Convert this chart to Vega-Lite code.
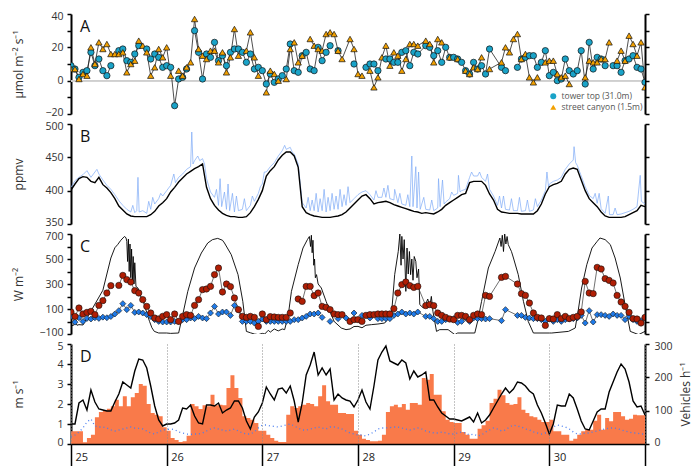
{
"$schema": "https://vega.github.io/schema/vega-lite/v6.json",
"padding": {"left": 11, "top": 11, "right": 5, "bottom": 26},
"background": "white",
"spacing": 10,
"bounds": "flush",
"resolve": {"legend": {"fill": "independent", "shape": "independent"}},
"config": {
  "font": "Open Sans",
  "view": {"stroke": null},
  "axis": {"labelFont": "Open Sans", "labelFontSize": 10.5, "labelColor": "#333", "titleFont": "Open Sans", "titleFontSize": 12, "titleFontWeight": "normal", "titleColor": "#333", "domainColor": "#000", "domainWidth": 2, "tickColor": "#000", "tickWidth": 1.5, "tickSize": 4, "labelPadding": 4, "grid": false},
  "axisY": {"labelFlush": true, "labelFlushOffset": 3},
  "legend": {"labelFont": "Open Sans"}
},
"datasets": {
"A": [
{"h":0,"tower":9,"street":7},{"h":1,"tower":7,"street":7},{"h":2,"tower":2,"street":1},{"h":3,"tower":5,"street":4},{"h":4,"tower":6,"street":3},{"h":5,"tower":17,"street":20},{"h":6,"tower":9,"street":10},{"h":7,"tower":13,"street":23},{"h":8,"tower":6,"street":19},{"h":9,"tower":3,"street":22},{"h":10,"tower":9,"street":16},{"h":11,"tower":null,"street":16},{"h":12,"tower":18,"street":16},{"h":13,"tower":19,"street":17},{"h":14,"tower":12,"street":5},{"h":15,"tower":11,"street":10},{"h":16,"tower":16,"street":12},{"h":17,"tower":21,"street":24},{"h":18,"tower":null,"street":21},{"h":19,"tower":19,"street":17},{"h":20,"tower":13,"street":3},{"h":21,"tower":16,"street":8},{"h":22,"tower":14,"street":19},{"h":23,"tower":8,"street":14},{"h":24,"tower":9,"street":20},{"h":25,"tower":8,"street":3},{"h":26,"tower":-15,"street":null},{"h":27,"tower":1,"street":6},{"h":28,"tower":2,"street":3},{"h":29,"tower":7,"street":8},{"h":30,"tower":null,"street":11},{"h":31,"tower":30,"street":37},{"h":32,"tower":17,"street":19},{"h":33,"tower":1,"street":15},{"h":34,"tower":16,"street":13},{"h":35,"tower":14,"street":18},{"h":36,"tower":23,"street":18},{"h":37,"tower":12,"street":11},{"h":38,"tower":15,"street":17},{"h":39,"tower":9,"street":5},{"h":40,"tower":17,"street":14},{"h":41,"tower":19,"street":31},{"h":42,"tower":19,"street":15},{"h":43,"tower":17,"street":null},{"h":44,"tower":11,"street":18},{"h":45,"tower":16,"street":29},{"h":46,"tower":7,"street":14},{"h":47,"tower":8,"street":3},{"h":48,"tower":6,"street":null},{"h":49,"tower":-2,"street":-7},{"h":50,"tower":4,"street":6},{"h":51,"tower":-1,"street":4},{"h":52,"tower":1,"street":0},{"h":53,"tower":3,"street":null},{"h":54,"tower":7,"street":1},{"h":55,"tower":22,"street":19},{"h":56,"tower":6,"street":23},{"h":57,"tower":5,"street":11},{"h":58,"tower":15,"street":15},{"h":59,"tower":17,"street":null},{"h":60,"tower":7,"street":25},{"h":61,"tower":6,"street":21},{"h":62,"tower":20,"street":19},{"h":63,"tower":12,"street":18},{"h":64,"tower":17,"street":28},{"h":65,"tower":21,"street":29},{"h":66,"tower":null,"street":28},{"h":67,"tower":18,"street":18},{"h":68,"tower":null,"street":13},{"h":70,"tower":null,"street":25},{"h":71,"tower":10,"street":19},{"h":72,"tower":null,"street":4},{"h":73,"tower":null,"street":3},{"h":74,"tower":8,"street":null},{"h":75,"tower":10,"street":6},{"h":76,"tower":10,"street":-4},{"h":77,"tower":6,"street":2},{"h":78,"tower":null,"street":14},{"h":79,"tower":13,"street":21},{"h":80,"tower":13,"street":9},{"h":81,"tower":11,"street":17},{"h":82,"tower":11,"street":15},{"h":83,"tower":17,"street":6},{"h":84,"tower":18,"street":13},{"h":85,"tower":9,"street":22},{"h":86,"tower":17,"street":22},{"h":87,"tower":16,"street":21},{"h":89,"tower":21,"street":24},{"h":90,"tower":20,"street":22},{"h":91,"tower":15,"street":11},{"h":92,"tower":18,"street":25},{"h":93,"tower":11,"street":23},{"h":94,"tower":20,"street":null},{"h":95,"tower":14,"street":14},{"h":96,"tower":14,"street":null},{"h":97,"tower":13,"street":13},{"h":98,"tower":11,"street":null},{"h":99,"tower":6,"street":6},{"h":100,"tower":4,"street":4},{"h":101,"tower":11,"street":8},{"h":102,"tower":7,"street":7},{"h":103,"tower":9,"street":14},{"h":104,"tower":4,"street":null},{"h":105,"tower":19,"street":7},{"h":108,"tower":8,"street":11},{"h":109,"tower":6,"street":20},{"h":110,"tower":null,"street":17},{"h":111,"tower":null,"street":25},{"h":112,"tower":8,"street":28},{"h":113,"tower":13,"street":13},{"h":114,"tower":14,"street":16},{"h":115,"tower":15,"street":2},{"h":116,"tower":15,"street":-1},{"h":117,"tower":8,"street":2},{"h":118,"tower":11,"street":null},{"h":119,"tower":18,"street":11},{"h":120,"tower":3,"street":12},{"h":121,"tower":5,"street":12},{"h":122,"tower":0,"street":4},{"h":123,"tower":1,"street":2},{"h":124,"tower":13,"street":3},{"h":125,"tower":6,"street":-2},{"h":126,"tower":4,"street":null},{"h":127,"tower":6,"street":null},{"h":128,"tower":18,"street":null},{"h":129,"tower":-2,"street":2},{"h":130,"tower":23,"street":12},{"h":131,"tower":7,"street":11},{"h":132,"tower":14,"street":11},{"h":133,"tower":13,"street":13},{"h":134,"tower":9,"street":13},{"h":135,"tower":null,"street":23},{"h":136,"tower":9,"street":null},{"h":137,"tower":9,"street":12},{"h":138,"tower":5,"street":18},{"h":139,"tower":12,"street":12},{"h":140,"tower":13,"street":27},{"h":141,"tower":15,"street":22},{"h":142,"tower":8,"street":15},{"h":143,"tower":7,"street":23},{"h":144,"tower":-1,"street":-4}
],
"Bk": [
{"h":0,"co2":401},{"h":1,"co2":410},{"h":2,"co2":418},{"h":3,"co2":421},{"h":4,"co2":420},{"h":5,"co2":414},{"h":6,"co2":412},{"h":7,"co2":420},{"h":8,"co2":409},{"h":9,"co2":404},{"h":10,"co2":397},{"h":11,"co2":388},{"h":12,"co2":377},{"h":13,"co2":371},{"h":14,"co2":365},{"h":15,"co2":362},{"h":16,"co2":361},{"h":17,"co2":361},{"h":18,"co2":361},{"h":19,"co2":361},{"h":20,"co2":364},{"h":21,"co2":369},{"h":22,"co2":377},{"h":23,"co2":382},{"h":24,"co2":388},{"h":25,"co2":398},{"h":26,"co2":405},{"h":27,"co2":413},{"h":28,"co2":419},{"h":29,"co2":425},{"h":30,"co2":429},{"h":31,"co2":433},{"h":32,"co2":436},{"h":33,"co2":440},{"h":34,"co2":405},{"h":35,"co2":388},{"h":36,"co2":378},{"h":37,"co2":371},{"h":38,"co2":366},{"h":39,"co2":363},{"h":40,"co2":361},{"h":41,"co2":361},{"h":42,"co2":360},{"h":43,"co2":360},{"h":44,"co2":361},{"h":45,"co2":367},{"h":46,"co2":376},{"h":47,"co2":387},{"h":48,"co2":400},{"h":49,"co2":422},{"h":50,"co2":430},{"h":51,"co2":436},{"h":52,"co2":446},{"h":53,"co2":453},{"h":54,"co2":458},{"h":55,"co2":458},{"h":56,"co2":452},{"h":57,"co2":435},{"h":58,"co2":376},{"h":59,"co2":367},{"h":60,"co2":364},{"h":61,"co2":362},{"h":62,"co2":361},{"h":63,"co2":360},{"h":64,"co2":360},{"h":65,"co2":360},{"h":66,"co2":361},{"h":67,"co2":362},{"h":68,"co2":364},{"h":69,"co2":368},{"h":70,"co2":374},{"h":71,"co2":380},{"h":72,"co2":386},{"h":73,"co2":392},{"h":74,"co2":394},{"h":75,"co2":388},{"h":76,"co2":380},{"h":77,"co2":382},{"h":78,"co2":383},{"h":79,"co2":384},{"h":80,"co2":382},{"h":81,"co2":379},{"h":82,"co2":377},{"h":83,"co2":375},{"h":84,"co2":373},{"h":85,"co2":371},{"h":86,"co2":369},{"h":87,"co2":368},{"h":88,"co2":366},{"h":89,"co2":367},{"h":90,"co2":366},{"h":91,"co2":365},{"h":92,"co2":368},{"h":93,"co2":372},{"h":94,"co2":378},{"h":95,"co2":382},{"h":96,"co2":386},{"h":97,"co2":390},{"h":98,"co2":394},{"h":99,"co2":396},{"h":100,"co2":412},{"h":101,"co2":414},{"h":102,"co2":414},{"h":103,"co2":414},{"h":104,"co2":408},{"h":105,"co2":395},{"h":106,"co2":386},{"h":107,"co2":372},{"h":108,"co2":368},{"h":109,"co2":367},{"h":110,"co2":366},{"h":111,"co2":366},{"h":112,"co2":366},{"h":113,"co2":365},{"h":114,"co2":365},{"h":115,"co2":365},{"h":116,"co2":365},{"h":117,"co2":370},{"h":118,"co2":380},{"h":119,"co2":395},{"h":120,"co2":406},{"h":121,"co2":409},{"h":122,"co2":411},{"h":123,"co2":414},{"h":124,"co2":425},{"h":125,"co2":432},{"h":126,"co2":434},{"h":127,"co2":432},{"h":128,"co2":416},{"h":129,"co2":400},{"h":130,"co2":388},{"h":131,"co2":382},{"h":132,"co2":376},{"h":133,"co2":368},{"h":134,"co2":362},{"h":135,"co2":360},{"h":136,"co2":360},{"h":137,"co2":360},{"h":138,"co2":360},{"h":139,"co2":361},{"h":140,"co2":364},{"h":141,"co2":367},{"h":142,"co2":370},{"h":143,"co2":378},{"h":144,"co2":376}
],
"Bb": [
{"h":0,"co2":405},{"h":1,"co2":415},{"h":2,"co2":420},{"h":3,"co2":424},{"h":4,"co2":430},{"h":5,"co2":420},{"h":6,"co2":428},{"h":6.5,"co2":432},{"h":7,"co2":425},{"h":8,"co2":416},{"h":9,"co2":408},{"h":10,"co2":402},{"h":11,"co2":394},{"h":12,"co2":385},{"h":13,"co2":378},{"h":14,"co2":372},{"h":15,"co2":368},{"h":15.5,"co2":378},{"h":16,"co2":367},{"h":16.5,"co2":370},{"h":16.8,"co2":420},{"h":17.1,"co2":368},{"h":18,"co2":370},{"h":19,"co2":366},{"h":19.5,"co2":384},{"h":20,"co2":372},{"h":20.5,"co2":390},{"h":21,"co2":380},{"h":22,"co2":388},{"h":22.5,"co2":396},{"h":23,"co2":392},{"h":24,"co2":400},{"h":25,"co2":408},{"h":25.8,"co2":425},{"h":26.2,"co2":412},{"h":27,"co2":420},{"h":28,"co2":425},{"h":29,"co2":432},{"h":30,"co2":436},{"h":30.3,"co2":488},{"h":30.6,"co2":440},{"h":31,"co2":445},{"h":31.8,"co2":452},{"h":32.3,"co2":445},{"h":33,"co2":448},{"h":33.5,"co2":440},{"h":34,"co2":418},{"h":35,"co2":398},{"h":36,"co2":390},{"h":36.5,"co2":402},{"h":37,"co2":378},{"h":37.4,"co2":418},{"h":37.8,"co2":376},{"h":38.5,"co2":398},{"h":39,"co2":372},{"h":39.4,"co2":410},{"h":39.8,"co2":370},{"h":40.5,"co2":396},{"h":41,"co2":368},{"h":41.5,"co2":392},{"h":42,"co2":370},{"h":43,"co2":372},{"h":43.5,"co2":388},{"h":44,"co2":370},{"h":45,"co2":378},{"h":45.5,"co2":392},{"h":46,"co2":384},{"h":47,"co2":396},{"h":47.5,"co2":406},{"h":48,"co2":410},{"h":48.5,"co2":428},{"h":49,"co2":428},{"h":50,"co2":436},{"h":51,"co2":442},{"h":52,"co2":452},{"h":53,"co2":460},{"h":53.6,"co2":468},{"h":54,"co2":462},{"h":55,"co2":465},{"h":55.5,"co2":458},{"h":56,"co2":455},{"h":57,"co2":440},{"h":58,"co2":382},{"h":59,"co2":374},{"h":59.5,"co2":390},{"h":60,"co2":370},{"h":60.5,"co2":386},{"h":61,"co2":370},{"h":61.5,"co2":396},{"h":62,"co2":368},{"h":62.5,"co2":388},{"h":63,"co2":370},{"h":63.5,"co2":402},{"h":64,"co2":368},{"h":64.5,"co2":390},{"h":65,"co2":370},{"h":65.5,"co2":396},{"h":66,"co2":372},{"h":66.5,"co2":392},{"h":67,"co2":372},{"h":67.5,"co2":402},{"h":68,"co2":376},{"h":68.5,"co2":394},{"h":69,"co2":378},{"h":69.5,"co2":406},{"h":70,"co2":382},{"h":71,"co2":388},{"h":72,"co2":394},{"h":73,"co2":398},{"h":74,"co2":400},{"h":75,"co2":394},{"h":76,"co2":386},{"h":76.5,"co2":400},{"h":77,"co2":390},{"h":78,"co2":390},{"h":78.5,"co2":404},{"h":79,"co2":390},{"h":79.5,"co2":408},{"h":80,"co2":388},{"h":81,"co2":386},{"h":81.2,"co2":402},{"h":82,"co2":382},{"h":82.5,"co2":396},{"h":83,"co2":380},{"h":84,"co2":378},{"h":84.5,"co2":394},{"h":85,"co2":376},{"h":85.5,"co2":452},{"h":85.8,"co2":376},{"h":86.5,"co2":436},{"h":86.8,"co2":374},{"h":87.2,"co2":428},{"h":87.6,"co2":372},{"h":88.5,"co2":390},{"h":89,"co2":372},{"h":90,"co2":371},{"h":90.5,"co2":386},{"h":91,"co2":370},{"h":92,"co2":374},{"h":92.2,"co2":418},{"h":92.6,"co2":376},{"h":93.2,"co2":416},{"h":93.6,"co2":380},{"h":94,"co2":383},{"h":95,"co2":388},{"h":95.5,"co2":398},{"h":96,"co2":393},{"h":97,"co2":396},{"h":97.2,"co2":423},{"h":97.6,"co2":398},{"h":98,"co2":400},{"h":99,"co2":402},{"h":100,"co2":420},{"h":100.5,"co2":428},{"h":101,"co2":422},{"h":102,"co2":422},{"h":102.5,"co2":428},{"h":103,"co2":420},{"h":104,"co2":414},{"h":104.5,"co2":425},{"h":105,"co2":402},{"h":106,"co2":392},{"h":107,"co2":378},{"h":107.5,"co2":392},{"h":108,"co2":374},{"h":108.5,"co2":392},{"h":109,"co2":372},{"h":110,"co2":371},{"h":110.5,"co2":388},{"h":111,"co2":370},{"h":112,"co2":370},{"h":112.5,"co2":390},{"h":113,"co2":369},{"h":114,"co2":370},{"h":114.5,"co2":386},{"h":115,"co2":369},{"h":116,"co2":371},{"h":116.5,"co2":388},{"h":117,"co2":376},{"h":118,"co2":386},{"h":119,"co2":400},{"h":119.4,"co2":428},{"h":119.8,"co2":406},{"h":120,"co2":410},{"h":121,"co2":414},{"h":122,"co2":416},{"h":123,"co2":420},{"h":124,"co2":432},{"h":125,"co2":440},{"h":126,"co2":446},{"h":126.2,"co2":466},{"h":126.6,"co2":442},{"h":127,"co2":438},{"h":128,"co2":422},{"h":129,"co2":406},{"h":130,"co2":393},{"h":131,"co2":388},{"h":131.5,"co2":396},{"h":132,"co2":381},{"h":132.5,"co2":396},{"h":133,"co2":373},{"h":134,"co2":366},{"h":134.8,"co2":392},{"h":135.1,"co2":364},{"h":136,"co2":364},{"h":136.5,"co2":374},{"h":137,"co2":364},{"h":138,"co2":365},{"h":139,"co2":367},{"h":140,"co2":369},{"h":141,"co2":372},{"h":142,"co2":376},{"h":142.8,"co2":423},{"h":143.1,"co2":384},{"h":144,"co2":380}
],
"Cs": [
{"h":0,"sw":-20},{"h":0.5,"sw":-35},{"h":1,"sw":-10},{"h":1.5,"sw":-30},{"h":2,"sw":-25},{"h":3,"sw":-28},{"h":8,"sw":250},{"h":9,"sw":380},{"h":10,"sw":508},{"h":11,"sw":590},{"h":11.7,"sw":615},{"h":12.5,"sw":650},{"h":13.4,"sw":680},{"h":13.8,"sw":670},{"h":14,"sw":640},{"h":14.2,"sw":480},{"h":14.4,"sw":660},{"h":14.6,"sw":400},{"h":14.8,"sw":620},{"h":15,"sw":350},{"h":15.2,"sw":580},{"h":15.4,"sw":330},{"h":15.6,"sw":520},{"h":15.8,"sw":300},{"h":16,"sw":470},{"h":16.3,"sw":280},{"h":16.8,"sw":268},{"h":17.5,"sw":200},{"h":18.4,"sw":135},{"h":19,"sw":70},{"h":19.7,"sw":1},{"h":20.3,"sw":-50},{"h":20.9,"sw":-79},{"h":22,"sw":-92},{"h":24,"sw":-92},{"h":25,"sw":-95},{"h":27,"sw":-92},{"h":28,"sw":50},{"h":29.3,"sw":241},{"h":31,"sw":428},{"h":32.7,"sw":548},{"h":34.3,"sw":628},{"h":35.5,"sw":655},{"h":36.8,"sw":665},{"h":38,"sw":650},{"h":38.5,"sw":628},{"h":40.2,"sw":535},{"h":41.9,"sw":375},{"h":43.1,"sw":161},{"h":44,"sw":-79},{"h":45,"sw":-90},{"h":46,"sw":-100},{"h":47,"sw":-105},{"h":48,"sw":-95},{"h":48.6,"sw":-100},{"h":49.5,"sw":-70},{"h":50,"sw":-85},{"h":51,"sw":-60},{"h":52,"sw":-75},{"h":53,"sw":-60},{"h":53.6,"sw":-65},{"h":54.5,"sw":50},{"h":55.3,"sw":241},{"h":57,"sw":455},{"h":58.2,"sw":588},{"h":59.3,"sw":655},{"h":59.8,"sw":680},{"h":60.1,"sw":600},{"h":60.3,"sw":690},{"h":60.5,"sw":550},{"h":60.7,"sw":650},{"h":60.9,"sw":450},{"h":61.1,"sw":500},{"h":61.3,"sw":350},{"h":61.6,"sw":375},{"h":62,"sw":300},{"h":62.8,"sw":268},{"h":64,"sw":161},{"h":65.3,"sw":55},{"h":66,"sw":1},{"h":67.8,"sw":-52},{"h":69,"sw":-65},{"h":70,"sw":-60},{"h":71,"sw":-40},{"h":72,"sw":-39},{"h":73,"sw":-50},{"h":74,"sw":-30},{"h":75.4,"sw":-25},{"h":77,"sw":-20},{"h":78.7,"sw":-12},{"h":80.4,"sw":55},{"h":81.2,"sw":375},{"h":82.1,"sw":561},{"h":82.5,"sw":700},{"h":82.8,"sw":450},{"h":83,"sw":681},{"h":83.3,"sw":500},{"h":83.6,"sw":655},{"h":84,"sw":241},{"h":84.3,"sw":588},{"h":84.6,"sw":380},{"h":84.9,"sw":560},{"h":85.2,"sw":375},{"h":85.5,"sw":500},{"h":85.8,"sw":330},{"h":86.1,"sw":520},{"h":86.5,"sw":481},{"h":86.8,"sw":350},{"h":87.2,"sw":420},{"h":87.5,"sw":135},{"h":88.4,"sw":108},{"h":89,"sw":140},{"h":89.5,"sw":180},{"h":90,"sw":120},{"h":90.4,"sw":201},{"h":90.8,"sw":80},{"h":91.7,"sw":-79},{"h":92.5,"sw":-65},{"h":94.6,"sw":-65},{"h":96.3,"sw":-105},{"h":97,"sw":-92},{"h":101.3,"sw":-92},{"h":102,"sw":0},{"h":103,"sw":161},{"h":104.7,"sw":428},{"h":106.4,"sw":561},{"h":107.6,"sw":668},{"h":107.9,"sw":600},{"h":108.2,"sw":690},{"h":108.5,"sw":560},{"h":108.8,"sw":700},{"h":109.1,"sw":620},{"h":109.4,"sw":680},{"h":109.7,"sw":615},{"h":110.5,"sw":560},{"h":111,"sw":508},{"h":112.2,"sw":375},{"h":113.5,"sw":161},{"h":114.7,"sw":1},{"h":116,"sw":-92},{"h":120,"sw":-92},{"h":120.6,"sw":-92},{"h":124.8,"sw":-79},{"h":126.5,"sw":-52},{"h":127.3,"sw":100},{"h":128.1,"sw":268},{"h":129.4,"sw":455},{"h":130.7,"sw":588},{"h":132,"sw":641},{"h":132.7,"sw":668},{"h":134,"sw":655},{"h":135.3,"sw":615},{"h":136.5,"sw":508},{"h":137.8,"sw":348},{"h":139,"sw":135},{"h":140.3,"sw":-79},{"h":142.4,"sw":-105},{"h":144,"sw":-79}
],
"C": [
{"h":0,"red":76,"blue":40},{"h":1,"red":41,"blue":-5},{"h":2,"red":108,"blue":30},{"h":3,"red":60,"blue":0},{"h":4,"red":73,"blue":25},{"h":5,"red":81,"blue":20},{"h":6,"red":55,"blue":30},{"h":7,"red":129,"blue":25},{"h":8,"red":167,"blue":35},{"h":9,"red":228,"blue":30},{"h":10,"red":287,"blue":40},{"h":11,"red":null,"blue":60},{"h":12,"red":289,"blue":87},{"h":13,"red":369,"blue":143},{"h":14,"red":335,"blue":95},{"h":15,"red":316,"blue":129},{"h":16,"red":247,"blue":73},{"h":17,"red":228,"blue":76},{"h":18,"red":175,"blue":68},{"h":19,"red":121,"blue":55},{"h":20,"red":68,"blue":41},{"h":21,"red":28,"blue":15},{"h":22,"red":20,"blue":1},{"h":23,"red":41,"blue":-4},{"h":24,"red":55,"blue":-4},{"h":25,"red":15,"blue":-4},{"h":26,"red":60,"blue":1},{"h":27,"red":1,"blue":1},{"h":28,"red":41,"blue":15},{"h":29,"red":55,"blue":15},{"h":30,"red":49,"blue":28},{"h":31,"red":129,"blue":23},{"h":32,"red":175,"blue":41},{"h":33,"red":255,"blue":28},{"h":34,"red":260,"blue":23},{"h":35,"red":281,"blue":68},{"h":36,"red":375,"blue":121},{"h":37,"red":428,"blue":60},{"h":38,"red":236,"blue":76},{"h":39,"red":300,"blue":76},{"h":40,"red":279,"blue":49},{"h":41,"red":188,"blue":129},{"h":42,"red":95,"blue":95},{"h":43,"red":41,"blue":1},{"h":44,"red":33,"blue":1},{"h":45,"red":41,"blue":1},{"h":46,"red":33,"blue":-12},{"h":47,"red":-39,"blue":1},{"h":48,"red":60,"blue":20},{"h":49,"red":15,"blue":1},{"h":50,"red":39,"blue":1},{"h":51,"red":36,"blue":1},{"h":52,"red":33,"blue":1},{"h":53,"red":33,"blue":1},{"h":54,"red":33,"blue":1},{"h":55,"red":68,"blue":1},{"h":56,"red":null,"blue":15},{"h":57,"red":180,"blue":15},{"h":58,"red":161,"blue":28},{"h":59,"red":281,"blue":41},{"h":60,"red":281,"blue":60},{"h":61,"red":207,"blue":60},{"h":62,"red":228,"blue":68},{"h":63,"red":121,"blue":33},{"h":64,"red":113,"blue":null},{"h":65,"red":95,"blue":1},{"h":66,"red":60,"blue":null},{"h":67,"red":55,"blue":23},{"h":68,"red":55,"blue":null},{"h":69,"red":null,"blue":28},{"h":70,"red":1,"blue":null},{"h":71,"red":15,"blue":68},{"h":72,"red":15,"blue":null},{"h":73,"red":1,"blue":49},{"h":74,"red":49,"blue":null},{"h":75,"red":55,"blue":28},{"h":76,"red":55,"blue":null},{"h":77,"red":60,"blue":23},{"h":78,"red":60,"blue":23},{"h":79,"red":60,"blue":23},{"h":80,"red":60,"blue":23},{"h":81,"red":103,"blue":49},{"h":82,"red":228,"blue":60},{"h":83,"red":295,"blue":76},{"h":84,"red":316,"blue":60},{"h":85,"red":287,"blue":68},{"h":86,"red":273,"blue":60},{"h":87,"red":281,"blue":76},{"h":89,"red":127,"blue":41},{"h":90,"red":135,"blue":41},{"h":91,"red":127,"blue":23},{"h":92,"red":68,"blue":1},{"h":93,"red":49,"blue":1},{"h":94,"red":33,"blue":15},{"h":95,"red":20,"blue":20},{"h":96,"red":15,"blue":23},{"h":97,"red":49,"blue":-8},{"h":98,"red":49,"blue":1},{"h":99,"red":41,"blue":28},{"h":100,"red":15,"blue":1},{"h":101,"red":49,"blue":28},{"h":102,"red":60,"blue":23},{"h":103,"red":55,"blue":23},{"h":104,"red":209,"blue":20},{"h":105,"red":201,"blue":23},{"h":108,"red":353,"blue":7},{"h":109,"red":361,"blue":95},{"h":112,"red":300,"blue":49},{"h":113,"red":223,"blue":49},{"h":114,"red":209,"blue":33},{"h":115,"red":148,"blue":28},{"h":116,"red":68,"blue":23},{"h":117,"red":33,"blue":23},{"h":118,"red":28,"blue":15},{"h":119,"red":-31,"blue":1},{"h":120,"red":23,"blue":23},{"h":121,"red":20,"blue":1},{"h":122,"red":55,"blue":15},{"h":123,"red":23,"blue":1},{"h":124,"red":41,"blue":15},{"h":125,"red":23,"blue":20},{"h":126,"red":33,"blue":23},{"h":127,"red":41,"blue":28},{"h":128,"red":76,"blue":49},{"h":129,"red":321,"blue":-12},{"h":130,"red":228,"blue":87},{"h":131,"red":223,"blue":-4},{"h":132,"red":433,"blue":55},{"h":133,"red":420,"blue":55},{"h":134,"red":343,"blue":49},{"h":135,"red":329,"blue":41},{"h":136,"red":308,"blue":60},{"h":137,"red":209,"blue":49},{"h":138,"red":156,"blue":49},{"h":139,"red":121,"blue":15},{"h":140,"red":73,"blue":41},{"h":141,"red":23,"blue":15},{"h":142,"red":20,"blue":1},{"h":143,"red":-12,"blue":7},{"h":144,"red":33,"blue":null}
],
"D": [
{"h":0,"veh":38,"ws":1.0,"us":0.35},{"h":1,"veh":38,"ws":1.0,"us":0.45},{"h":2,"veh":38,"ws":2.05,"us":0.6},{"h":3,"veh":5,"ws":2.2,"us":0.8},{"h":4,"veh":18,"ws":1.7,"us":1.1},{"h":5,"veh":28,"ws":2.7,"us":1.25},{"h":6,"veh":80,"ws":2.1,"us":0.9},{"h":7,"veh":96,"ws":1.75,"us":0.85},{"h":8,"veh":100,"ws":1.7,"us":0.85},{"h":9,"veh":106,"ws":1.65,"us":0.8},{"h":10,"veh":113,"ws":1.65,"us":0.7},{"h":11,"veh":133,"ws":2.1,"us":0.65},{"h":12,"veh":113,"ws":2.5,"us":0.7},{"h":13,"veh":143,"ws":3.1,"us":0.75},{"h":14,"veh":113,"ws":2.95,"us":0.8},{"h":15,"veh":140,"ws":2.8,"us":0.85},{"h":16,"veh":153,"ws":3.65,"us":0.8},{"h":17,"veh":180,"ws":4.25,"us":0.78},{"h":18,"veh":175,"ws":4.2,"us":0.75},{"h":19,"veh":120,"ws":3.8,"us":0.65},{"h":20,"veh":93,"ws":2.9,"us":0.55},{"h":21,"veh":88,"ws":1.9,"us":0.5},{"h":22,"veh":83,"ws":1.2,"us":0.6},{"h":23,"veh":50,"ws":0.9,"us":0.7},{"h":24,"veh":40,"ws":1.0,"us":0.72},{"h":25,"veh":18,"ws":1.0,"us":0.75},{"h":26,"veh":12,"ws":1.05,"us":0.72},{"h":27,"veh":6,"ws":1.2,"us":0.6},{"h":28,"veh":8,"ws":1.8,"us":0.55},{"h":29,"veh":25,"ws":1.75,"us":0.5},{"h":30,"veh":120,"ws":1.95,"us":0.48},{"h":31,"veh":113,"ws":1.4,"us":0.5},{"h":32,"veh":105,"ws":1.05,"us":0.5},{"h":33,"veh":116,"ws":1.0,"us":0.55},{"h":34,"veh":113,"ws":1.95,"us":0.65},{"h":35,"veh":148,"ws":1.95,"us":0.75},{"h":36,"veh":116,"ws":1.9,"us":0.8},{"h":37,"veh":118,"ws":2.05,"us":0.75},{"h":38,"veh":116,"ws":1.55,"us":0.7},{"h":39,"veh":168,"ws":1.7,"us":0.65},{"h":40,"veh":206,"ws":1.8,"us":0.7},{"h":41,"veh":168,"ws":2.15,"us":0.75},{"h":42,"veh":138,"ws":2.15,"us":0.65},{"h":43,"veh":83,"ws":1.8,"us":0.55},{"h":44,"veh":78,"ws":1.15,"us":0.5},{"h":45,"veh":73,"ws":0.75,"us":0.5},{"h":46,"veh":63,"ws":1.35,"us":0.6},{"h":47,"veh":40,"ws":1.6,"us":0.8},{"h":48,"veh":40,"ws":2.05,"us":0.95},{"h":49,"veh":28,"ws":2.85,"us":0.95},{"h":50,"veh":18,"ws":2.5,"us":0.9},{"h":51,"veh":10,"ws":2.2,"us":0.88},{"h":52,"veh":6,"ws":2.75,"us":0.85},{"h":53,"veh":6,"ws":2.8,"us":0.9},{"h":54,"veh":88,"ws":2.55,"us":0.95},{"h":55,"veh":113,"ws":2.9,"us":1.0},{"h":56,"veh":108,"ws":2.15,"us":0.9},{"h":57,"veh":113,"ws":1.1,"us":0.8},{"h":58,"veh":118,"ws":2.05,"us":0.7},{"h":59,"veh":123,"ws":3.45,"us":0.7},{"h":60,"veh":120,"ws":3.95,"us":0.75},{"h":61,"veh":113,"ws":4.6,"us":0.8},{"h":62,"veh":143,"ws":3.45,"us":0.85},{"h":63,"veh":176,"ws":3.8,"us":0.8},{"h":64,"veh":128,"ws":3.45,"us":0.75},{"h":65,"veh":118,"ws":3.75,"us":0.85},{"h":66,"veh":118,"ws":2.2,"us":0.85},{"h":67,"veh":93,"ws":2.5,"us":0.8},{"h":68,"veh":93,"ws":2.3,"us":0.75},{"h":69,"veh":90,"ws":2.2,"us":0.65},{"h":70,"veh":90,"ws":2.15,"us":0.55},{"h":71,"veh":40,"ws":1.85,"us":0.5},{"h":72,"veh":28,"ws":2.2,"us":0.45},{"h":73,"veh":16,"ws":2.7,"us":0.45},{"h":74,"veh":12,"ws":2.1,"us":0.4},{"h":75,"veh":8,"ws":1.75,"us":0.5},{"h":76,"veh":8,"ws":2.9,"us":0.6},{"h":77,"veh":10,"ws":4.2,"us":0.75},{"h":78,"veh":28,"ws":4.6,"us":0.8},{"h":79,"veh":96,"ws":4.9,"us":0.8},{"h":80,"veh":113,"ws":4.15,"us":0.82},{"h":81,"veh":118,"ws":4.05,"us":0.85},{"h":82,"veh":110,"ws":3.95,"us":0.85},{"h":83,"veh":120,"ws":4.2,"us":0.8},{"h":84,"veh":103,"ws":4.05,"us":0.75},{"h":85,"veh":123,"ws":3.25,"us":0.7},{"h":86,"veh":123,"ws":3.65,"us":0.75},{"h":87,"veh":118,"ws":3.35,"us":0.8},{"h":88,"veh":198,"ws":3.45,"us":0.75},{"h":89,"veh":193,"ws":3.6,"us":0.65},{"h":90,"veh":210,"ws":2.2,"us":0.6},{"h":91,"veh":148,"ws":2.2,"us":0.55},{"h":92,"veh":148,"ws":1.85,"us":0.55},{"h":93,"veh":98,"ws":1.55,"us":0.6},{"h":94,"veh":73,"ws":1.4,"us":0.55},{"h":95,"veh":66,"ws":1.25,"us":0.5},{"h":96,"veh":63,"ws":1.25,"us":0.5},{"h":97,"veh":63,"ws":1.2,"us":0.55},{"h":98,"veh":36,"ws":1.15,"us":0.6},{"h":99,"veh":28,"ws":1.25,"us":0.55},{"h":100,"veh":16,"ws":1.35,"us":0.45},{"h":101,"veh":16,"ws":1.1,"us":0.5},{"h":102,"veh":46,"ws":1.55,"us":0.4},{"h":103,"veh":56,"ws":1.05,"us":0.45},{"h":104,"veh":70,"ws":1.2,"us":0.6},{"h":105,"veh":123,"ws":1.45,"us":0.7},{"h":106,"veh":136,"ws":1.8,"us":0.8},{"h":107,"veh":163,"ws":2.15,"us":0.75},{"h":108,"veh":146,"ws":2.5,"us":0.65},{"h":109,"veh":123,"ws":2.8,"us":0.7},{"h":110,"veh":118,"ws":2.55,"us":0.85},{"h":111,"veh":120,"ws":2.75,"us":0.95},{"h":112,"veh":140,"ws":3.1,"us":0.9},{"h":113,"veh":103,"ws":3.05,"us":0.85},{"h":114,"veh":93,"ws":2.9,"us":0.75},{"h":115,"veh":83,"ws":2.65,"us":0.7},{"h":116,"veh":80,"ws":2.5,"us":0.6},{"h":117,"veh":73,"ws":1.95,"us":0.55},{"h":118,"veh":66,"ws":1.55,"us":0.5},{"h":119,"veh":66,"ws":1.05,"us":0.55},{"h":120,"veh":73,"ws":0.5,"us":0.6},{"h":121,"veh":38,"ws":1.0,"us":0.85},{"h":122,"veh":38,"ws":1.95,"us":0.95},{"h":123,"veh":28,"ws":1.9,"us":0.9},{"h":124,"veh":28,"ws":1.9,"us":0.85},{"h":125,"veh":10,"ws":2.5,"us":0.75},{"h":126,"veh":16,"ws":2.3,"us":0.6},{"h":127,"veh":28,"ws":1.75,"us":0.5},{"h":128,"veh":38,"ws":1.15,"us":0.5},{"h":129,"veh":43,"ws":0.75,"us":0.55},{"h":130,"veh":43,"ws":0.7,"us":0.55},{"h":131,"veh":70,"ws":1.15,"us":0.6},{"h":132,"veh":88,"ws":1.6,"us":0.65},{"h":133,"veh":43,"ws":1.75,"us":0.7},{"h":134,"veh":78,"ws":1.75,"us":0.75},{"h":135,"veh":68,"ws":2.6,"us":0.8},{"h":136,"veh":96,"ws":3.1,"us":0.8},{"h":137,"veh":96,"ws":3.6,"us":0.78},{"h":138,"veh":83,"ws":4.0,"us":0.7},{"h":139,"veh":73,"ws":3.75,"us":0.65},{"h":140,"veh":76,"ws":3.1,"us":0.6},{"h":141,"veh":88,"ws":2.15,"us":0.55},{"h":142,"veh":86,"ws":1.85,"us":0.55},{"h":143,"veh":86,"ws":1.9,"us":0.5},{"h":144,"veh":86,"ws":1.45,"us":0.5}
]
},
"vconcat": [
{
  "width": 574, "height": 100,
  "title": {"text": "A", "anchor": "start", "frame": "group", "baseline": "top", "offset": 0, "dx": 9, "dy": 24, "fontSize": 16, "fontWeight": "normal", "color": "#111", "font": "Open Sans"},
  "data": {"name": "A"},
  "transform": [{"fold": ["tower", "street"], "as": ["s", "v"]}],
  "resolve": {"axis": {"y": "independent"}},
  "layer": [
    {"mark": {"type": "rule", "color": "#cfcfcf", "strokeWidth": 1},
     "encoding": {"y": {"datum": 0, "type": "quantitative", "scale": {"domain": [-20, 40], "nice": false, "zero": false}, "axis": null}}},
    {"mark": {"type": "line", "color": "#222", "strokeWidth": 0.8, "clip": true},
     "encoding": {
       "x": {"field": "h", "type": "quantitative", "scale": {"domain": [0, 144], "nice": false, "zero": false}, "axis": {"values": [24, 48, 72, 96, 120], "grid": true, "gridDash": [1, 2], "gridColor": "#888", "gridWidth": 1, "labels": false, "ticks": false, "domain": false, "title": null}},
       "y": {"field": "v", "type": "quantitative", "scale": {"domain": [-20, 40], "nice": false, "zero": false}, "axis": {"orient": "left", "values": [-20, -10, 0, 10, 20, 30, 40], "labelExpr": "datum.value % 20 === 0 ? datum.label : ''", "title": "µmol m⁻² s⁻¹", "titleX": -53, "titleY": 50, "titleAngle": -90, "titleBaseline": "middle", "titleAlign": "center"}},
       "detail": {"field": "s"}
     }},
    {"mark": {"type": "point", "filled": true, "stroke": "#111", "strokeWidth": 0.7, "size": 40, "opacity": 1, "clip": true},
     "encoding": {
       "x": {"field": "h", "type": "quantitative", "scale": {"domain": [0, 144], "nice": false, "zero": false}, "axis": null},
       "y": {"field": "v", "type": "quantitative", "scale": {"domain": [-20, 40], "nice": false, "zero": false}, "axis": {"orient": "right", "values": [-20, -10, 0, 10, 20, 30, 40], "labels": false, "title": null}},
       "fill": {"field": "s", "type": "nominal", "scale": {"domain": ["tower", "street"], "range": ["#1aa3c8", "#f2a000"]}, "legend": {"orient": "bottom-right", "offset": 2, "title": null, "labelExpr": "datum.label === 'tower' ? 'tower top (31.0m)' : 'street canyon (1.5m)'", "labelFontSize": 8.5, "labelColor": "#555", "symbolSize": 36, "symbolStrokeColor": "#111", "symbolStrokeWidth": 0.7, "rowPadding": 2, "padding": 0}},
       "shape": {"field": "s", "type": "nominal", "scale": {"domain": ["tower", "street"], "range": ["circle", "triangle-up"]}, "legend": {"orient": "bottom-right", "offset": 2, "title": null, "labelExpr": "datum.label === 'tower' ? 'tower top (31.0m)' : 'street canyon (1.5m)'", "labelFontSize": 8.5, "labelColor": "#555", "symbolSize": 36, "symbolStrokeColor": "#111", "symbolStrokeWidth": 0.7, "rowPadding": 2, "padding": 0}}
     }}
  ]
},
{
  "width": 574, "height": 100,
  "title": {"text": "B", "anchor": "start", "frame": "group", "baseline": "top", "offset": 0, "dx": 9, "dy": 24, "fontSize": 16, "fontWeight": "normal", "color": "#111", "font": "Open Sans"},
  "resolve": {"axis": {"y": "independent"}},
  "layer": [
    {"data": {"name": "Bb"},
     "mark": {"type": "line", "color": "#7eaaf6", "strokeWidth": 0.7, "clip": true},
     "encoding": {
       "x": {"field": "h", "type": "quantitative", "scale": {"domain": [0, 144], "nice": false, "zero": false}, "axis": {"values": [24, 48, 72, 96, 120], "grid": true, "gridDash": [1, 2], "gridColor": "#888", "gridWidth": 1, "labels": false, "ticks": false, "domain": false, "title": null}},
       "y": {"field": "co2", "type": "quantitative", "scale": {"domain": [350, 500], "nice": false, "zero": false}, "axis": {"orient": "right", "values": [350, 400, 450, 500], "labels": false, "title": null}}
     }},
    {"data": {"name": "Bk"},
     "mark": {"type": "line", "color": "#000", "strokeWidth": 1.4, "clip": true},
     "encoding": {
       "x": {"field": "h", "type": "quantitative", "scale": {"domain": [0, 144], "nice": false, "zero": false}, "axis": null},
       "y": {"field": "co2", "type": "quantitative", "scale": {"domain": [350, 500], "nice": false, "zero": false}, "axis": {"orient": "left", "values": [350, 400, 450, 500], "title": "ppmv", "titleX": -53, "titleY": 50, "titleAngle": -90, "titleBaseline": "middle", "titleAlign": "center"}}
     }}
  ]
},
{
  "width": 574, "height": 100,
  "title": {"text": "C", "anchor": "start", "frame": "group", "baseline": "top", "offset": 0, "dx": 9, "dy": 24, "fontSize": 16, "fontWeight": "normal", "color": "#111", "font": "Open Sans"},
  "resolve": {"axis": {"y": "independent"}},
  "layer": [
    {"mark": {"type": "rule", "color": "#cfcfcf", "strokeWidth": 1},
     "encoding": {"y": {"datum": 0, "type": "quantitative", "scale": {"domain": [-100, 700], "nice": false, "zero": false}, "axis": null}}},
    {"data": {"name": "Cs"},
     "mark": {"type": "line", "color": "#000", "strokeWidth": 0.9, "clip": true},
     "encoding": {
       "x": {"field": "h", "type": "quantitative", "scale": {"domain": [0, 144], "nice": false, "zero": false}, "axis": {"values": [24, 48, 72, 96, 120], "grid": true, "gridDash": [1, 2], "gridColor": "#888", "gridWidth": 1, "labels": false, "ticks": false, "domain": false, "title": null}},
       "y": {"field": "sw", "type": "quantitative", "scale": {"domain": [-100, 700], "nice": false, "zero": false}, "axis": {"orient": "left", "values": [-100, 0, 100, 200, 300, 400, 500, 600, 700], "labelExpr": "(datum.value + 100) % 200 === 0 ? datum.label : ''", "title": "W m⁻²", "titleX": -53, "titleY": 50, "titleAngle": -90, "titleBaseline": "middle", "titleAlign": "center"}}
     }},
    {"data": {"name": "C"},
     "mark": {"type": "line", "color": "#333", "strokeWidth": 0.7, "clip": true},
     "encoding": {
       "x": {"field": "h", "type": "quantitative", "scale": {"domain": [0, 144], "nice": false, "zero": false}, "axis": null},
       "y": {"field": "blue", "type": "quantitative", "scale": {"domain": [-100, 700], "nice": false, "zero": false}, "axis": null}
     }},
    {"data": {"name": "C"},
     "mark": {"type": "line", "color": "#333", "strokeWidth": 0.7, "clip": true},
     "encoding": {
       "x": {"field": "h", "type": "quantitative", "scale": {"domain": [0, 144], "nice": false, "zero": false}, "axis": null},
       "y": {"field": "red", "type": "quantitative", "scale": {"domain": [-100, 700], "nice": false, "zero": false}, "axis": null}
     }},
    {"data": {"name": "C"},
     "mark": {"type": "point", "shape": "diamond", "filled": true, "fill": "#1f7ae8", "stroke": "#111", "strokeWidth": 0.6, "size": 36, "opacity": 1, "clip": true},
     "encoding": {
       "x": {"field": "h", "type": "quantitative", "scale": {"domain": [0, 144], "nice": false, "zero": false}, "axis": null},
       "y": {"field": "blue", "type": "quantitative", "scale": {"domain": [-100, 700], "nice": false, "zero": false}, "axis": null}
     }},
    {"data": {"name": "C"},
     "mark": {"type": "point", "shape": "circle", "filled": true, "fill": "#b01e04", "stroke": "#111", "strokeWidth": 0.6, "size": 40, "opacity": 1, "clip": true},
     "encoding": {
       "x": {"field": "h", "type": "quantitative", "scale": {"domain": [0, 144], "nice": false, "zero": false}, "axis": null},
       "y": {"field": "red", "type": "quantitative", "scale": {"domain": [-100, 700], "nice": false, "zero": false}, "axis": {"orient": "right", "values": [-100, 0, 100, 200, 300, 400, 500, 600, 700], "labels": false, "title": null}}
     }}
  ]
},
{
  "width": 574, "height": 100,
  "title": {"text": "D", "anchor": "start", "frame": "group", "baseline": "top", "offset": 0, "dx": 9, "dy": 24, "fontSize": 16, "fontWeight": "normal", "color": "#111", "font": "Open Sans"},
  "data": {"name": "D"},
  "resolve": {"scale": {"y": "independent"}, "axis": {"y": "independent"}},
  "layer": [
    {"mark": {"type": "area", "interpolate": "step-after", "color": "#f97a4a", "opacity": 1, "clip": true},
     "encoding": {
       "x": {"field": "h", "type": "quantitative", "scale": {"domain": [0, 144], "nice": false, "zero": false}, "axis": {"orient": "bottom", "values": [0, 24, 48, 72, 96, 120, 144], "grid": true, "gridDash": [1, 2], "gridColor": "#888", "gridWidth": 1, "domain": true, "domainColor": "#000", "domainWidth": 1.5, "ticks": true, "tickSize": 22, "tickColor": "#000", "tickWidth": 1.5, "labels": true, "labelExpr": "datum.value < 144 ? '' + (25 + datum.value / 24) : ''", "labelAlign": "left", "labelBaseline": "middle", "labelPadding": -9, "labelFlush": false, "labelOverlap": false, "labelFontSize": 11, "labelColor": "#222", "labelOffset": 4, "title": null, "zindex": 1}},
       "y": {"field": "veh", "type": "quantitative", "scale": {"domain": [0, 300], "nice": false, "zero": true}, "axis": {"orient": "right", "values": [0, 100, 200, 300], "labelPadding": 5, "title": "Vehicles h⁻¹", "titleX": 40, "titleY": 50, "titleAngle": -90, "titleBaseline": "middle", "titleAlign": "center"}}
     }},
    {"mark": {"type": "line", "color": "#4a7ef0", "strokeWidth": 1.3, "strokeDash": [1, 3], "clip": true},
     "encoding": {
       "x": {"field": "h", "type": "quantitative", "scale": {"domain": [0, 144], "nice": false, "zero": false}},
       "y": {"field": "us", "type": "quantitative", "scale": {"domain": [0, 5], "nice": false, "zero": true}, "axis": null}
     }},
    {"mark": {"type": "line", "color": "#000", "strokeWidth": 1.4, "clip": true},
     "encoding": {
       "x": {"field": "h", "type": "quantitative", "scale": {"domain": [0, 144], "nice": false, "zero": false}},
       "y": {"field": "ws", "type": "quantitative", "scale": {"domain": [0, 5], "nice": false, "zero": true}, "axis": {"orient": "left", "values": [0, 1, 2, 3, 4, 5], "title": "m s⁻¹", "titleX": -53, "titleY": 50, "titleAngle": -90, "titleBaseline": "middle", "titleAlign": "center"}}
     }}
  ]
}
]
}
